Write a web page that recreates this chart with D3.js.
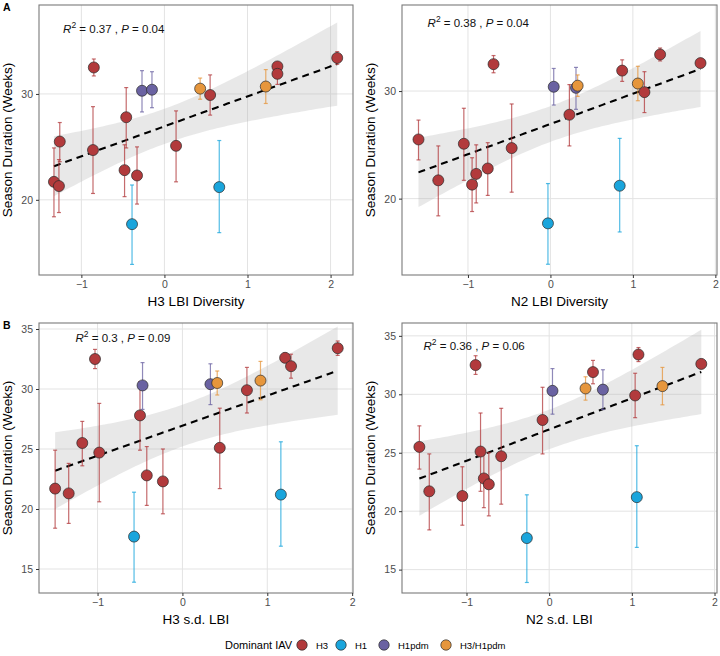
<!DOCTYPE html>
<html>
<head>
<meta charset="utf-8">
<script src="https://cdn.jsdelivr.net/npm/d3@7"></script>
<style>
  body { margin: 0; background: #fff; }
  text { font-family: "Liberation Sans", Arial, Helvetica, sans-serif; }
</style>
</head>
<body>
<svg id="chart" width="720" height="656"></svg>
<script>
// one entry per season, same order in every array
const seasonType = ['H3','H3','H3','H3','H3','H3','H3','H3','H3','H3','H3','H3','H3',
                    'H1','H1','H1pdm','H1pdm','H3/H1pdm','H3/H1pdm'];
const duration     = [21.7, 21.3, 25.5, 32.5, 24.7, 27.8, 22.8, 22.3, 25.1, 29.9, 32.6, 31.9, 33.4, 17.7, 21.2, 30.3, 30.4, 30.5, 30.7];
const durationLow  = [18.4, 18.8, 23.6, 31.7, 20.6, 24.9, 20.3, 19.6, 21.7, 28.0, 32.2, 30.9, 32.8, 13.9, 16.9, 28.3, 28.7, 29.5, 29.1];
const durationHigh = [24.9, 23.8, 27.3, 33.3, 28.8, 30.6, 25.2, 25.0, 28.4, 31.8, 33.0, 32.9, 34.0, 21.4, 25.6, 32.2, 32.1, 31.5, 32.3];

const h3LbiDiversity = [-1.33, -1.27, -1.26, -0.85, -0.86, -0.46, -0.48, -0.33, 0.14, 0.55, 1.36, 1.36, 2.08, -0.39, 0.66, -0.27, -0.15, 0.43, 1.22];
const n2LbiDiversity = [-1.36, -0.95, -1.60, -0.69, -0.47, 0.23, -0.76, -0.90, -1.05, 1.14, 1.82, 0.87, 1.33, -0.03, 0.84, 0.31, 0.04, 0.33, 1.06];
const h3SdLbi        = [-1.50, -1.34, -1.18, -1.03, -0.98, -0.50, -0.42, -0.23, 0.44, 0.76, 1.21, 1.28, 1.83, -0.57, 1.16, -0.47, 0.33, 0.41, 0.92];
const n2SdLbi        = [-1.45, -1.05, -1.57, -0.89, -0.58, -0.08, -0.79, -0.73, -0.83, 1.04, 1.84, 0.53, 1.08, -0.27, 1.06, 0.04, 0.65, 0.44, 1.37];

const r2Labels = ['0.37', '0.38', '0.3', '0.36'];
const pLabels  = ['0.04', '0.04', '0.09', '0.06'];

const xTicks = [-1, 0, 1, 2];
const topYTicks = [20, 30];
const bottomYTicks = [15, 20, 25, 30, 35];

const subtypes = ['H3', 'H1', 'H1pdm', 'H3/H1pdm'];
const subtypeColors = ['#b23a3c', '#1aa5dc', '#6a62a2', '#e6963c'];

const color = d3.scaleOrdinal().domain(subtypes).range(subtypeColors);
const svg = d3.select('#chart');

const panels = [
  { xs: h3LbiDiversity, title: 'H3 LBI Diversity', left: 39, top: 5, w: 314, h: 270,
    xDomain: [-1.51, 2.27], yDomain: [12.9, 38.4], yTicks: topYTicks, ann: [-1.22, 35.8], tag: 'A' },
  { xs: n2LbiDiversity, title: 'N2 LBI Diversity', left: 402, top: 5, w: 315, h: 270,
    xDomain: [-1.80, 2.02], yDomain: [12.9, 38.0], yTicks: topYTicks, ann: [-1.49, 36.0] },
  { xs: h3SdLbi, title: 'H3 s.d. LBI', left: 39, top: 323, w: 314, h: 270,
    xDomain: [-1.69, 2.01], yDomain: [13.0, 35.5], yTicks: bottomYTicks, ann: [-1.26, 33.9], tag: 'B' },
  { xs: n2SdLbi, title: 'N2 s.d. LBI', left: 402, top: 323, w: 315, h: 270,
    xDomain: [-1.78, 2.03], yDomain: [13.0, 36.1], yTicks: bottomYTicks, ann: [-1.52, 33.8] }
];

// least squares line + confidence band (geom_smooth(method = 'lm') style)
function linearFit(xs, ys) {
  const n = xs.length;
  const mx = d3.mean(xs), my = d3.mean(ys);
  let sxx = 0, sxy = 0;
  xs.forEach((x, i) => { sxx += (x - mx) ** 2; sxy += (x - mx) * (ys[i] - my); });
  const b = sxy / sxx, a = my - b * mx;
  let sse = 0;
  xs.forEach((x, i) => { sse += (ys[i] - a - b * x) ** 2; });
  const s = Math.sqrt(sse / (n - 2));
  const tCrit = 1.8; // band a bit narrower than plain 95% t, matches the figure
  const [x0, x1] = d3.extent(xs);
  return d3.range(81).map(k => {
    const x = x0 + (x1 - x0) * k / 80;
    const fit = a + b * x;
    const half = tCrit * s * Math.sqrt(1 / n + (x - mx) ** 2 / sxx);
    return { x, fit, lo: fit - half, hi: fit + half };
  });
}

panels.forEach((p, pi) => {
  const x = d3.scaleLinear().domain(p.xDomain).range([0, p.w]);
  const y = d3.scaleLinear().domain(p.yDomain).range([p.h, 0]);
  const g = svg.append('g').attr('transform', `translate(${p.left},${p.top})`);

  g.append('clipPath').attr('id', 'clip' + pi)
    .append('rect').attr('width', p.w).attr('height', p.h);

  // grid
  g.selectAll('.vgrid').data(xTicks).enter().append('line')
    .attr('x1', d => x(d)).attr('x2', d => x(d)).attr('y1', 0).attr('y2', p.h)
    .attr('stroke', '#e3e3e3').attr('stroke-width', 1);
  g.selectAll('.hgrid').data(p.yTicks).enter().append('line')
    .attr('y1', d => y(d)).attr('y2', d => y(d)).attr('x1', 0).attr('x2', p.w)
    .attr('stroke', '#e3e3e3').attr('stroke-width', 1);

  const band = linearFit(p.xs, duration);
  const plot = g.append('g').attr('clip-path', `url(#clip${pi})`);

  plot.append('path').datum(band)
    .attr('fill', '#b3b3b3').attr('fill-opacity', 0.3)
    .attr('d', d3.area().x(d => x(d.x)).y0(d => y(d.lo)).y1(d => y(d.hi)));

  plot.append('path').datum(band)
    .attr('fill', 'none').attr('stroke', '#000').attr('stroke-width', 2.1)
    .attr('stroke-dasharray', '7,5')
    .attr('d', d3.line().x(d => x(d.x)).y(d => y(d.fit)));

  // error bars
  const idx = d3.range(duration.length);
  const eb = plot.selectAll('.eb').data(idx).enter().append('g')
    .attr('stroke', i => color(seasonType[i])).attr('stroke-opacity', 0.75).attr('stroke-width', 1.2);
  eb.append('line')
    .attr('x1', i => x(p.xs[i])).attr('x2', i => x(p.xs[i]))
    .attr('y1', i => y(durationLow[i])).attr('y2', i => y(durationHigh[i]));
  eb.append('line')
    .attr('x1', i => x(p.xs[i]) - 2).attr('x2', i => x(p.xs[i]) + 2)
    .attr('y1', i => y(durationLow[i])).attr('y2', i => y(durationLow[i]));
  eb.append('line')
    .attr('x1', i => x(p.xs[i]) - 2).attr('x2', i => x(p.xs[i]) + 2)
    .attr('y1', i => y(durationHigh[i])).attr('y2', i => y(durationHigh[i]));

  plot.selectAll('.pt').data(idx).enter().append('circle')
    .attr('cx', i => x(p.xs[i])).attr('cy', i => y(duration[i])).attr('r', 5.5)
    .attr('fill', i => color(seasonType[i]))
    .attr('stroke', '#2a2a2a').attr('stroke-width', 0.7);

  // border
  g.append('rect').attr('width', p.w).attr('height', p.h)
    .attr('fill', 'none').attr('stroke', '#7a7a7a').attr('stroke-width', 1.1);

  // axes
  const xAxis = g.append('g').attr('transform', `translate(0,${p.h})`)
    .call(d3.axisBottom(x).tickValues(xTicks).tickFormat(d3.format('d')).tickSize(3).tickPadding(3));
  const yAxis = g.append('g')
    .call(d3.axisLeft(y).tickValues(p.yTicks).tickFormat(d3.format('d')).tickSize(3).tickPadding(3));
  [xAxis, yAxis].forEach(a => {
    a.select('.domain').remove();
    a.selectAll('.tick line').attr('stroke', '#333');
    a.selectAll('.tick text').attr('fill', '#4d4d4d')
      .style('font-size', '10.5px').style('font-family', '"Liberation Sans", Arial, sans-serif');
  });

  g.append('text').attr('x', p.w / 2).attr('y', p.h + 31)
    .attr('text-anchor', 'middle').style('font-size', '13.5px').text(p.title);
  g.append('text')
    .attr('transform', `translate(${-27},${p.h / 2}) rotate(-90)`)
    .attr('text-anchor', 'middle').style('font-size', '13.5px').text('Season Duration (Weeks)');

  // stats annotation
  const t = g.append('text').attr('x', x(p.ann[0])).attr('y', y(p.ann[1]))
    .style('font-size', '11.5px').attr('fill', '#111');
  t.append('tspan').style('font-style', 'italic').text('R');
  t.append('tspan').attr('dy', -5).style('font-size', '8.5px').text('2');
  t.append('tspan').attr('dy', 5).text(` = ${r2Labels[pi]} , `);
  t.append('tspan').style('font-style', 'italic').text('P');
  t.append('tspan').text(` = ${pLabels[pi]}`);

  if (p.tag) {
    svg.append('text').attr('x', 3).attr('y', p.top + 6)
      .style('font-size', '10.5px').style('font-weight', 'bold').text(p.tag);
  }
});

// legend
const legend = svg.append('g').attr('transform', 'translate(0,645)');
legend.append('text').attr('x', 225).attr('y', 4).style('font-size', '11px').text('Dominant IAV');
const legendX = [302, 341, 384, 446];
subtypes.forEach((s, i) => {
  legend.append('circle').attr('cx', legendX[i]).attr('cy', 0).attr('r', 5.2)
    .attr('fill', color(s)).attr('stroke', '#2a2a2a').attr('stroke-width', 0.7);
  legend.append('text').attr('x', legendX[i] + 14).attr('y', 3.5)
    .style('font-size', '9.5px').text(s);
});
</script>
</body>
</html>
